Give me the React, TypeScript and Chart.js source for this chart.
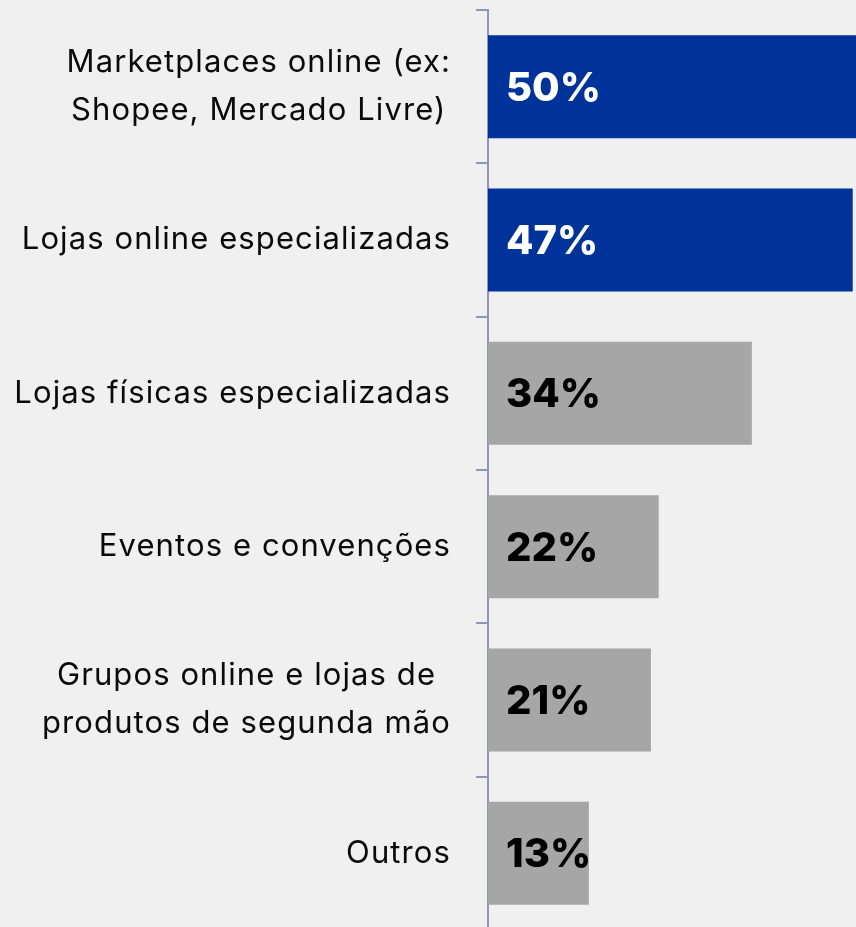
import React, { useEffect, useRef } from "react";
import { Chart, registerables } from "chart.js";

Chart.register(...registerables);

const categories: string[][] = [
  ["Marketplaces online (ex:", "Shopee, Mercado Livre)"],
  ["Lojas online especializadas"],
  ["Lojas físicas especializadas"],
  ["Eventos e convenções"],
  ["Grupos online e lojas de", "produtos de segunda mão"],
  ["Outros"],
];
const values: number[] = [50, 47, 34, 22, 21, 13];
const barColors: string[] = ["#003399", "#003399", "#a6a6a6", "#a6a6a6", "#a6a6a6", "#a6a6a6"];
const valueTextColors: string[] = ["#ffffff", "#ffffff", "#000000", "#000000", "#000000", "#000000"];

const LABEL_FONT = "Inter, 'Open Sans', sans-serif";
const VALUE_FONT = "Inter, 'Open Sans', sans-serif";

const labelPlugin = {
  id: "customLabels",
  afterDraw(chart: any) {
    const ctx = chart.ctx;
    const yScale = chart.scales.y;
    const meta = chart.getDatasetMeta(0);
    ctx.save();
    // category labels
    ctx.font = `400 31px ${LABEL_FONT}`;
    (ctx as any).letterSpacing = "1.1px";
    ctx.fillStyle = "#0a0a0a";
    ctx.textAlign = "center";
    ctx.textBaseline = "middle";
    const right = chart.chartArea.left - 37;
    const lh = 48;
    categories.forEach((lines, i) => {
      const cy = yScale.getPixelForValue(i);
      const w = Math.max(...lines.map((l) => ctx.measureText(l).width));
      const cx = right - w / 2;
      lines.forEach((l, j) => {
        ctx.fillText(l, cx, cy + (j - (lines.length - 1) / 2) * lh);
      });
    });
    // value labels
    (ctx as any).letterSpacing = "0px";
    ctx.font = `800 40px ${VALUE_FONT}`;
    ctx.textAlign = "left";
    meta.data.forEach((bar: any, i: number) => {
      ctx.fillStyle = valueTextColors[i];
      ctx.fillText(`${values[i]}%`, bar.base + 18, bar.y + 2);
    });
    ctx.restore();
  },
};

export default function App() {
  const ref = useRef<HTMLCanvasElement>(null);
  useEffect(() => {
    document.body.style.margin = "0";
    document.body.style.overflow = "hidden";
    const chart = new Chart(ref.current!, {
      type: "bar",
      data: {
        labels: categories.map((c) => c.join(" ")),
        datasets: [
          {
            data: values,
            backgroundColor: barColors,
            barPercentage: 0.672,
            categoryPercentage: 1,
            borderWidth: 0,
          },
        ],
      },
      options: {
        indexAxis: "y",
        responsive: false,
        animation: false,
        devicePixelRatio: 1,
        layout: { padding: { top: 10, left: 0, right: 0, bottom: 0 } },
        plugins: { legend: { display: false }, tooltip: { enabled: false } },
        scales: {
          x: { display: false, min: 0, max: 50 },
          y: {
            afterFit: (s: any) => {
              s.width = 488;
            },
            border: { display: true, color: "#8e98b4", width: 2 },
            grid: { drawOnChartArea: false, drawTicks: true, tickLength: 12, color: "#8e98b4", lineWidth: 2, offset: true },
            ticks: { display: false },
          },
        },
      },
      plugins: [labelPlugin],
    });
    return () => chart.destroy();
  }, []);
  return (
    <div style={{ position: "fixed", left: 0, top: 0, width: 856, height: 927, overflow: "hidden", background: "#f0f0f0" }}>
      <canvas ref={ref} width={876} height={930} style={{ display: "block" }} />
    </div>
  );
}
